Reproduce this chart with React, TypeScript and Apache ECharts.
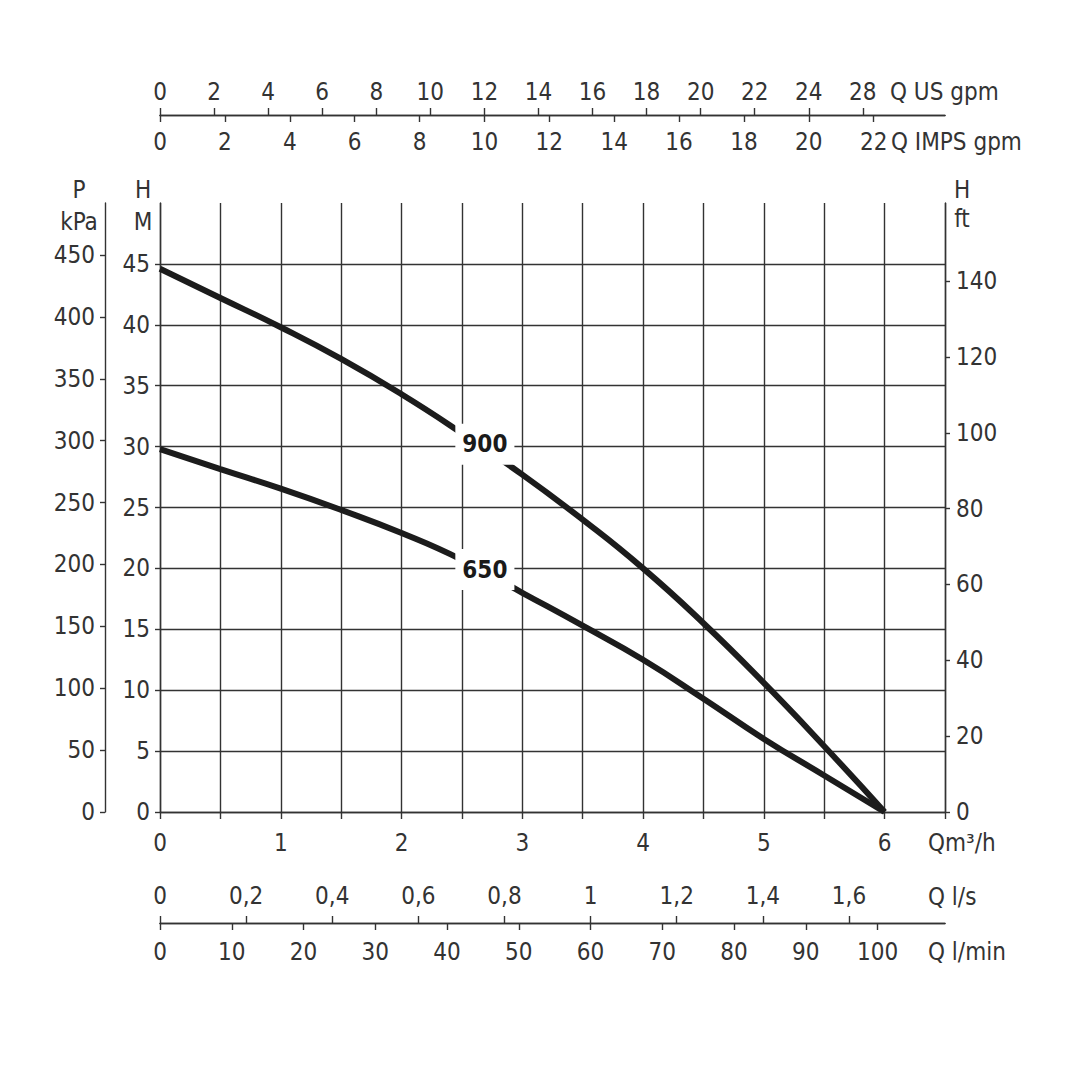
import React, { useEffect, useRef } from "react";
import * as echarts from "echarts";

// Flow Q in m3/h and head H in metres for the two pump curves
const flowM3h = [0, 0.5, 1, 1.5, 2, 2.5, 3, 3.5, 4, 4.5, 5, 5.5, 6];
const head900 = [44.6, 42.2, 39.8, 37.2, 34.3, 31.1, 27.7, 24.0, 20.0, 15.5, 10.6, 5.4, 0];
const head650 = [29.8, 28.15, 26.55, 24.8, 22.9, 20.7, 18.0, 15.3, 12.5, 9.3, 6.0, 3.0, 0];
const curveLabels = [
  { name: "900", value: [2.69, 30.2] },
  { name: "650", value: [2.69, 19.9] },
];

// Axis ticks
const m3hLabels = [0, 1, 2, 3, 4, 5, 6];
const headLabels = [0, 5, 10, 15, 20, 25, 30, 35, 40, 45];
const kpaTicks = [0, 50, 100, 150, 200, 250, 300, 350, 400, 450];
const ftTicks = [0, 20, 40, 60, 80, 100, 120, 140];
const usGpmTicks = [0, 2, 4, 6, 8, 10, 12, 14, 16, 18, 20, 22, 24, 26];
const usGpmLabels = ["0", "2", "4", "6", "8", "10", "12", "14", "16", "18", "20", "22", "24", "28"];
const impGpmTicks = [0, 2, 4, 6, 8, 10, 12, 14, 16, 18, 20, 22];
const lsTicks = [0, 0.2, 0.4, 0.6, 0.8, 1, 1.2, 1.4, 1.6];
const lminTicks = [0, 10, 20, 30, 40, 50, 60, 70, 80, 90, 100];

// Axis extents (same pixel span as the m3/h axis 0..6.5)
const qMax = 6.5;
const headMax = 50;
const kpaMax = 492;
const ftMax = 160.6;
const usGpmMax = 29.04;
const impGpmMax = 24.2;
const lsMax = 1.823;
const lminMax = 109.4;

const FONT = "'Liberation Sans Narrow', 'Arial Narrow', 'DejaVu Sans Condensed', sans-serif";
const INK = "#333333";
const FS = 24;

export default function App() {
  const ref = useRef<HTMLDivElement>(null);

  useEffect(() => {
    document.body.style.margin = "0";
    const chart = echarts.init(ref.current!, undefined, { renderer: "svg" });

    const lineStyle = { color: INK, width: 1.4 };
    const labelBase = { fontSize: FS, color: INK, fontFamily: FONT };

    const secondaryX = (
      max: number,
      position: string,
      offset: number,
      ticks: number[],
      inside: boolean,
      margin: number,
      formatter: (v: number) => string
    ) => ({
      type: "value",
      gridIndex: 0,
      position,
      offset,
      min: 0,
      max,
      axisLine: { show: true, onZero: false, lineStyle },
      axisTick: { show: true, inside, length: 7, customValues: ticks, lineStyle },
      axisLabel: { ...labelBase, inside, margin, customValues: ticks, formatter },
      splitLine: { show: false },
    });

    const text = (t: string, x: number, y: number, align = "center", fontSize = FS) => ({
      type: "text",
      x,
      y,
      style: {
        text: t,
        fill: INK,
        fontSize,
        fontFamily: FONT,
        align,
        verticalAlign: "middle",
      },
    });

    chart.setOption({
      animation: false,
      backgroundColor: "#ffffff",
      grid: { left: 160, top: 203, width: 785, height: 609, containLabel: false },
      xAxis: [
        {
          type: "value",
          position: "bottom",
          min: 0,
          max: qMax,
          interval: 0.5,
          axisLine: { show: true, onZero: false, lineStyle },
          axisTick: { show: true, length: 7, lineStyle },
          axisLabel: { ...labelBase, margin: 19, customValues: m3hLabels },
          splitLine: { show: true, lineStyle },
        },
        secondaryX(usGpmMax, "top", 88, usGpmTicks, false, 11, (v) => usGpmLabels[usGpmTicks.indexOf(v)] ?? ""),
        secondaryX(impGpmMax, "top", 88, impGpmTicks, true, 15, (v) => String(v)),
        secondaryX(lsMax, "bottom", 111, lsTicks, true, 15, (v) => String(v).replace(".", ",")),
        secondaryX(lminMax, "bottom", 111, lminTicks, false, 17, (v) => String(v)),
      ],
      yAxis: [
        {
          type: "value",
          position: "left",
          min: 0,
          max: headMax,
          interval: 5,
          axisLine: { show: true, onZero: false, lineStyle },
          axisTick: { show: true, length: 5, customValues: headLabels, lineStyle },
          axisLabel: { ...labelBase, margin: 10, customValues: headLabels },
          splitLine: { show: true, lineStyle },
        },
        {
          type: "value",
          position: "left",
          offset: 55,
          min: 0,
          max: kpaMax,
          axisLine: { show: true, onZero: false, lineStyle },
          axisTick: { show: true, length: 5, customValues: kpaTicks, lineStyle },
          axisLabel: { ...labelBase, margin: 10, customValues: kpaTicks },
          splitLine: { show: false },
        },
        {
          type: "value",
          position: "right",
          min: 0,
          max: ftMax,
          axisLine: { show: true, onZero: false, lineStyle },
          axisTick: { show: true, length: 5, customValues: ftTicks, lineStyle },
          axisLabel: { ...labelBase, margin: 11, customValues: ftTicks },
          splitLine: { show: false },
        },
      ],
      series: [
        {
          name: "900",
          type: "line",
          xAxisIndex: 0,
          yAxisIndex: 0,
          smooth: true,
          symbol: "none",
          data: flowM3h.map((q, i) => [q, head900[i]]),
          lineStyle: { color: "#1c1c1c", width: 6 },
          z: 3,
        },
        {
          name: "650",
          type: "line",
          xAxisIndex: 0,
          yAxisIndex: 0,
          smooth: true,
          symbol: "none",
          data: flowM3h.map((q, i) => [q, head650[i]]),
          lineStyle: { color: "#1c1c1c", width: 6 },
          z: 3,
        },
        {
          name: "labels",
          type: "scatter",
          xAxisIndex: 0,
          yAxisIndex: 0,
          symbolSize: 1,
          itemStyle: { color: "rgba(0,0,0,0)", opacity: 1 },
          data: curveLabels,
          z: 5,
          label: {
            show: true,
            position: "inside",
            formatter: "{b}",
            fontSize: 24,
            fontWeight: "bold",
            fontFamily: FONT,
            color: "#1a1a1a",
            backgroundColor: "#ffffff",
            padding: [9, 7, 8, 7],
          },
        },
      ],
      graphic: [
        text("P", 79, 190),
        text("kPa", 79, 222),
        text("H", 143, 190),
        text("M", 143, 222),
        text("H", 962, 190),
        text("ft", 962, 219),
        text("Q US gpm", 890, 92, "left"),
        text("Q IMPS gpm", 891, 142, "left"),
        text("Qm³/h", 928, 843, "left"),
        text("Q l/s", 928, 897, "left"),
        text("Q l/min", 928, 952, "left"),
      ],
    });

    return () => chart.dispose();
  }, []);

  return <div ref={ref} style={{ width: 1080, height: 1080 }} />;
}
